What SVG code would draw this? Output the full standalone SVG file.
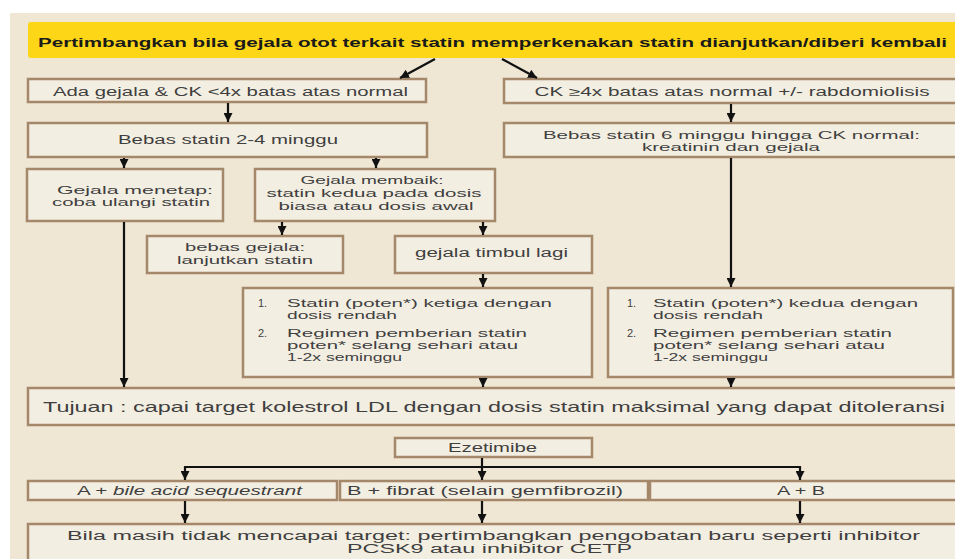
<svg xmlns="http://www.w3.org/2000/svg" width="955" height="559" viewBox="0 0 955 559">
<defs>
<marker id="ah" markerUnits="userSpaceOnUse" markerWidth="10" markerHeight="9" refX="9" refY="4.5" orient="auto">
<path d="M0,0 L9,4.5 L0,9 z" fill="#111"/>
</marker>
<style>
.box{fill:#f3eee2;stroke:#a5876a;stroke-width:2.5}
.t{font-family:"Liberation Sans",Arial,sans-serif;font-size:11px;fill:#3f3f3f}
.s{font-size:12px}
.c{text-anchor:middle}
.ln{stroke:#111;stroke-width:2.2;fill:none}
.la{stroke:#111;stroke-width:2.2;fill:none;marker-end:url(#ah)}
</style>
</defs>
<rect x="0" y="0" width="955" height="559" fill="#ffffff"/>
<rect x="10" y="13" width="960" height="560" fill="#efe7d4"/>

<g id="banner">
<rect x="28" y="22" width="940" height="36" rx="3" fill="#fcd617"/>
<text class="t c" x="492.5" y="47" textLength="909" lengthAdjust="spacingAndGlyphs" style="font-weight:bold;fill:#1a1a1a;font-size:12.5px">Pertimbangkan bila gejala otot terkait statin memperkenakan statin dianjutkan/diberi kembali</text>
</g>

<g id="ada">
<rect class="box" x="28" y="79" width="398" height="23"/>
<text class="t s c" x="230.5" y="95.5" textLength="355" lengthAdjust="spacingAndGlyphs">Ada gejala &amp; CK &lt;4x batas atas normal</text>
</g>

<g id="ck">
<rect class="box" x="504" y="79" width="470" height="24"/>
<text class="t s c" x="732" y="95.5" textLength="395" lengthAdjust="spacingAndGlyphs">CK ≥4x batas atas normal +/- rabdomiolisis</text>
</g>

<g id="bebas24">
<rect class="box" x="28" y="123" width="399" height="34"/>
<text class="t s c" x="228" y="144" textLength="220" lengthAdjust="spacingAndGlyphs">Bebas statin 2-4 minggu</text>
</g>

<g id="bebas6">
<rect class="box" x="504" y="123" width="470" height="34"/>
<text class="t c" x="731.5" y="139" textLength="377" lengthAdjust="spacingAndGlyphs">Bebas statin 6 minggu hingga CK normal:</text>
<text class="t c" x="731" y="151" textLength="178" lengthAdjust="spacingAndGlyphs">kreatinin dan gejala</text>
</g>

<g id="menetap">
<rect class="box" x="27" y="169" width="196" height="52"/>
<text class="t c" x="135" y="194" textLength="156" lengthAdjust="spacingAndGlyphs">Gejala menetap:</text>
<text class="t c" x="131" y="206" textLength="158" lengthAdjust="spacingAndGlyphs">coba ulangi statin</text>
</g>

<g id="membaik">
<rect class="box" x="255" y="169" width="240" height="52"/>
<text class="t c" x="372" y="184" textLength="143" lengthAdjust="spacingAndGlyphs">Gejala membaik:</text>
<text class="t c" x="374" y="197" textLength="215" lengthAdjust="spacingAndGlyphs">statin kedua pada dosis</text>
<text class="t c" x="376" y="210" textLength="195" lengthAdjust="spacingAndGlyphs">biasa atau dosis awal</text>
</g>

<g id="bebasgejala">
<rect class="box" x="147" y="236" width="196" height="37"/>
<text class="t c" x="245" y="251" textLength="120" lengthAdjust="spacingAndGlyphs">bebas gejala:</text>
<text class="t c" x="245" y="264" textLength="136" lengthAdjust="spacingAndGlyphs">lanjutkan statin</text>
</g>

<g id="timbul">
<rect class="box" x="395" y="236" width="197" height="37"/>
<text class="t s c" x="491.5" y="257" textLength="153" lengthAdjust="spacingAndGlyphs">gejala timbul lagi</text>
</g>

<g id="statin3">
<rect class="box" x="243" y="288" width="349" height="89"/>
<text class="t" x="258" y="307">1.</text>
<text class="t" x="287" y="307" textLength="265" lengthAdjust="spacingAndGlyphs">Statin (poten*) ketiga dengan</text>
<text class="t" x="287" y="319" textLength="110" lengthAdjust="spacingAndGlyphs">dosis rendah</text>
<text class="t" x="258" y="337">2.</text>
<text class="t" x="287" y="337" textLength="240" lengthAdjust="spacingAndGlyphs">Regimen pemberian statin</text>
<text class="t" x="287" y="349" textLength="231" lengthAdjust="spacingAndGlyphs">poten* selang sehari atau</text>
<text class="t" x="287" y="361" textLength="115" lengthAdjust="spacingAndGlyphs">1-2x seminggu</text>
</g>

<g id="statin2">
<rect class="box" x="608" y="288" width="345" height="89"/>
<text class="t" x="627" y="307">1.</text>
<text class="t" x="653" y="307" textLength="265" lengthAdjust="spacingAndGlyphs">Statin (poten*) kedua dengan</text>
<text class="t" x="653" y="319" textLength="110" lengthAdjust="spacingAndGlyphs">dosis rendah</text>
<text class="t" x="627" y="337">2.</text>
<text class="t" x="653" y="337" textLength="239" lengthAdjust="spacingAndGlyphs">Regimen pemberian statin</text>
<text class="t" x="653" y="349" textLength="232" lengthAdjust="spacingAndGlyphs">poten* selang sehari atau</text>
<text class="t" x="653" y="361" textLength="115" lengthAdjust="spacingAndGlyphs">1-2x seminggu</text>
</g>

<g id="tujuan">
<rect class="box" x="28" y="388" width="940" height="37"/>
<text class="t c" x="494" y="412" textLength="902" lengthAdjust="spacingAndGlyphs" style="font-size:15px">Tujuan : capai target kolestrol LDL dengan dosis statin maksimal yang dapat ditoleransi</text>
</g>

<g id="ezetimibe">
<rect class="box" x="395" y="438" width="197" height="19"/>
<text class="t s c" x="492.5" y="452" textLength="89" lengthAdjust="spacingAndGlyphs">Ezetimibe</text>
</g>

<g id="optA">
<rect class="box" x="28" y="481" width="309" height="19"/>
<text class="t s c" x="189.5" y="495" textLength="225" lengthAdjust="spacingAndGlyphs">A + <tspan font-style="italic">bile acid sequestrant</tspan></text>
</g>

<g id="optB">
<rect class="box" x="340" y="481" width="308" height="19"/>
<text class="t s c" x="485" y="495" textLength="276" lengthAdjust="spacingAndGlyphs">B + fibrat (selain gemfibrozil)</text>
</g>

<g id="optAB">
<rect class="box" x="650" y="481" width="320" height="19"/>
<text class="t s c" x="801" y="495" textLength="48" lengthAdjust="spacingAndGlyphs">A + B</text>
</g>

<g id="final">
<rect class="box" x="28" y="524" width="940" height="50"/>
<text class="t c" x="493.5" y="540" textLength="853" lengthAdjust="spacingAndGlyphs" style="font-size:12.5px">Bila masih tidak mencapai target: pertimbangkan pengobatan baru seperti inhibitor</text>
<text class="t c" x="489.5" y="553" textLength="285" lengthAdjust="spacingAndGlyphs" style="font-size:12.5px">PCSK9 atau inhibitor CETP</text>
</g>

<g id="connectors">
<line class="la" x1="435" y1="59" x2="400" y2="78"/>
<line class="la" x1="502" y1="59" x2="537" y2="78"/>
<line class="la" x1="228" y1="103" x2="228" y2="122"/>
<line class="la" x1="731" y1="104" x2="731" y2="122"/>
<line class="la" x1="124" y1="158" x2="124" y2="168"/>
<line class="la" x1="376" y1="158" x2="376" y2="168"/>
<line class="la" x1="282" y1="222" x2="282" y2="235"/>
<line class="la" x1="483" y1="222" x2="483" y2="235"/>
<line class="la" x1="483" y1="274" x2="483" y2="287"/>
<line class="la" x1="731" y1="158" x2="731" y2="287"/>
<line class="la" x1="124" y1="222" x2="124" y2="387"/>
<line class="la" x1="483" y1="378" x2="483" y2="387"/>
<line class="la" x1="731" y1="378" x2="731" y2="387"/>
<line class="la" x1="482" y1="458" x2="482" y2="480"/>
<line class="ln" x1="185" y1="467" x2="800" y2="467"/>
<line class="la" x1="185" y1="466" x2="185" y2="480"/>
<line class="la" x1="800" y1="466" x2="800" y2="480"/>
<line class="la" x1="185" y1="501" x2="185" y2="523"/>
<line class="la" x1="482" y1="501" x2="482" y2="523"/>
<line class="la" x1="800" y1="501" x2="800" y2="523"/>
</g>
</svg>
